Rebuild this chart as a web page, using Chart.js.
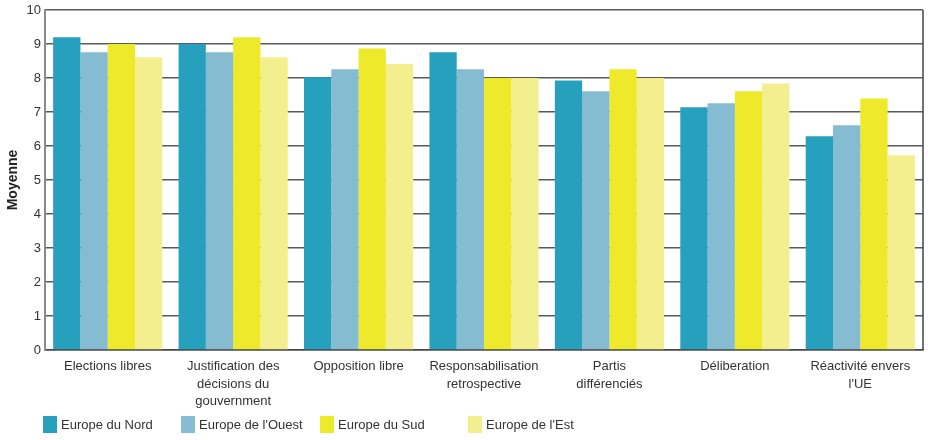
<!DOCTYPE html>
<html lang="fr">
<head>
<meta charset="utf-8">
<title>Moyenne par région</title>
<script src="https://cdn.jsdelivr.net/npm/chart.js@4.4.1/dist/chart.umd.min.js"></script>
<style>
  html, body { margin: 0; padding: 0; background: #fff; }
  #wrap { position: relative; width: 928px; height: 440px; }
  #chart { display: block; }
  #legend { position: absolute; left: 0; top: 416px; width: 928px; height: 17px;
            font: 13px 'Liberation Sans', Arial, sans-serif; color: #333; }
  #legend .item { position: absolute; top: 0; height: 17px; display: flex; align-items: center; white-space: nowrap; }
  #legend .swatch { width: 14px; height: 17px; margin-right: 4px; }
</style>
</head>
<body>
<div id="wrap">
  <canvas id="chart" width="928" height="440"></canvas>
  <div id="legend"></div>
</div>
<script>
const categories = [
    "Elections libres",
    ["Justification des", "décisions du", "gouvernment"],
    "Opposition libre",
    ["Responsabilisation", "retrospective"],
    ["Partis", "différenciés"],
    "Déliberation",
    ["Réactivité envers", "l'UE"]
];
const regions = ["Europe du Nord", "Europe de l'Ouest", "Europe du Sud", "Europe de l'Est"];
const nord = [9.2, 9.0, 8.02, 8.76, 7.93, 7.14, 6.29];
const ouest = [8.76, 8.76, 8.26, 8.26, 7.61, 7.26, 6.61];
const sud = [9.0, 9.2, 8.87, 8.0, 8.26, 7.61, 7.4];
const est = [8.61, 8.61, 8.41, 8.0, 8.0, 7.84, 5.73];
const yTicks = [0, 1, 2, 3, 4, 5, 6, 7, 8, 9, 10];

const colors = ["#27a0bd", "#86bcd1", "#eee92b", "#f3ef8e"];
const values = [nord, ouest, sud, est];
const legendX = [43, 181, 320, 468];

Chart.defaults.font.family = "'Liberation Sans', Arial, sans-serif";
Chart.defaults.font.size = 13;
Chart.defaults.color = "#333";

// right edge of the plot frame
const frameRight = {
    id: "frameRight",
    afterDraw(chart) {
        const { ctx, chartArea } = chart;
        ctx.save();
        ctx.strokeStyle = "#444";
        ctx.lineWidth = 1.5;
        ctx.beginPath();
        ctx.moveTo(chartArea.right, chartArea.top);
        ctx.lineTo(chartArea.right, chartArea.bottom);
        ctx.stroke();
        ctx.restore();
    }
};

const datasets = regions.map((name, i) => ({
    label: name,
    data: values[i],
    backgroundColor: colors[i],
    borderWidth: 0,
    categoryPercentage: 0.87,
    barPercentage: 1.0
}));

new Chart(document.getElementById("chart"), {
    type: "bar",
    data: { labels: categories, datasets: datasets },
    options: {
        responsive: false,
        animation: false,
        layout: { padding: { top: 10, right: 5, left: 0, bottom: 24 } },
        plugins: {
            tooltip: { enabled: false },
            legend: { display: false }
        },
        scales: {
            x: {
                grid: { display: false },
                border: { display: true, color: "#444", width: 1.5 },
                ticks: { maxRotation: 0, autoSkip: false, padding: 0, color: "#333", font: { lineHeight: 1.35 } },
                afterFit(scale) { scale.height = 66; }
            },
            y: {
                min: 0,
                max: 10,
                afterBuildTicks(scale) { scale.ticks = yTicks.map(v => ({ value: v })); },
                grid: { color: "#5a5a5a", lineWidth: 1.5, drawTicks: false },
                border: { display: true, color: "#8a8a8a", width: 2 },
                ticks: { padding: 4, color: "#333" },
                title: {
                    display: true,
                    text: "Moyenne",
                    font: { weight: "bold", size: 14 },
                    color: "#222",
                    padding: { top: 5, bottom: 0 }
                },
                afterFit(scale) {
                    scale.width = 45;
                    scale.paddingTop = 0;
                    scale.paddingBottom = 0;
                }
            }
        }
    },
    plugins: [frameRight]
});

// legend row under the chart
const legend = document.getElementById("legend");
regions.forEach((name, i) => {
    const item = document.createElement("div");
    item.className = "item";
    item.style.left = legendX[i] + "px";
    const swatch = document.createElement("span");
    swatch.className = "swatch";
    swatch.style.background = colors[i];
    const text = document.createElement("span");
    text.textContent = name;
    item.appendChild(swatch);
    item.appendChild(text);
    legend.appendChild(item);
});
</script>
</body>
</html>
